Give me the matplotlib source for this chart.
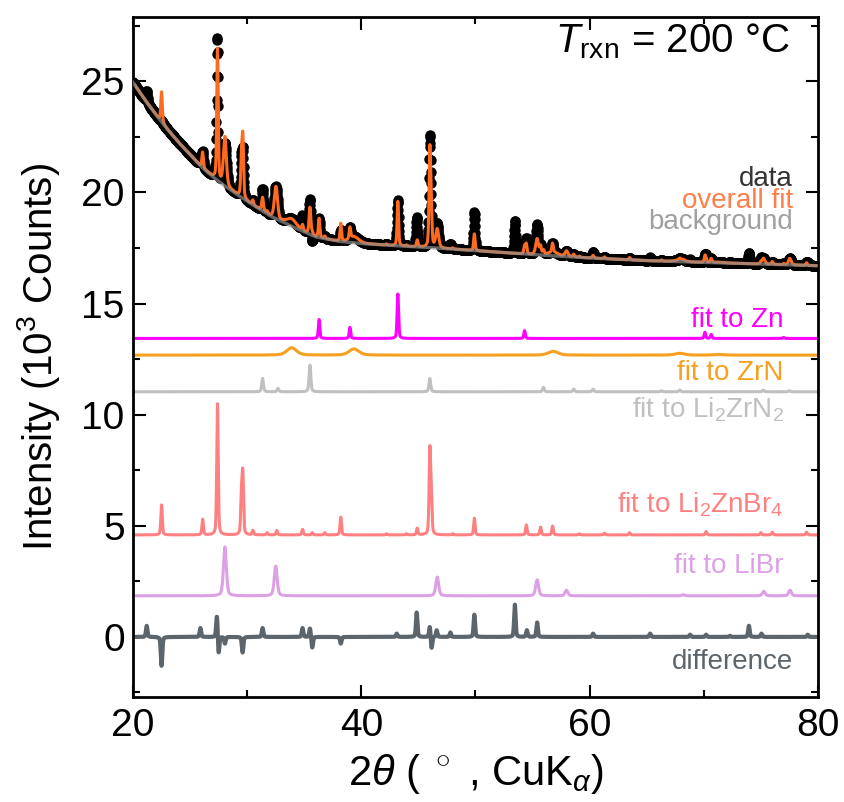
import numpy as np
import matplotlib
matplotlib.use("Agg")
import matplotlib.pyplot as plt
from matplotlib.ticker import MultipleLocator

plt.rcParams['font.family'] = ['Liberation Sans', 'DejaVu Sans']
plt.rcParams['mathtext.fontset'] = 'custom'
plt.rcParams['mathtext.rm'] = 'Liberation Sans'
plt.rcParams['mathtext.it'] = 'Liberation Sans:italic'

# background anchors (2theta, 10^3 counts)
bg_x = [20, 21, 22, 23, 24, 25, 26, 27, 28, 29, 30, 32, 34, 36, 38, 40, 43, 46, 50, 55, 60, 65, 70, 75, 80]
bg_y = [24.95, 24.2, 23.5, 22.85, 22.25, 21.7, 21.15, 20.7, 20.3, 19.95, 19.6, 18.95, 18.45, 18.0,
        17.8, 17.7, 17.6, 17.52, 17.38, 17.2, 17.05, 16.93, 16.85, 16.78, 16.7]

# phase peaks: position (2theta) and height (10^3 counts)
zn_pos = [36.3, 39.0, 43.2, 54.3, 70.1, 70.65, 77.0]
zn_int = [0.85, 0.5, 2.0, 0.35, 0.28, 0.18, 0.05]

zrn_pos = [33.9, 39.35, 56.8, 67.9, 71.3]
zrn_int = [0.33, 0.28, 0.17, 0.08, 0.03]

li2zrn2_pos = [31.35, 32.7, 35.5, 46.0, 55.95, 58.6, 60.3, 66.3, 67.9, 75.2, 77.5]
li2zrn2_int = [0.6, 0.15, 1.2, 0.6, 0.2, 0.12, 0.12, 0.05, 0.08, 0.07, 0.05]

li2znbr4_pos = [22.5, 26.1, 27.4, 29.5, 29.62, 30.5, 31.75, 32.6, 34.85, 35.7, 36.8, 38.2, 42.2, 43.95,
                44.9, 46.0, 46.12, 48.0, 49.9, 54.45, 55.7, 56.75, 59.1, 61.3, 63.5, 70.2, 75.0, 76.0, 79.0]
li2znbr4_int = [1.35, 0.7, 5.9, 1.7, 2.6, 0.2, 0.1, 0.2, 0.25, 0.1, 0.1, 0.8, 0.05, 0.05,
                0.3, 3.6, 1.8, 0.05, 0.75, 0.45, 0.35, 0.4, 0.05, 0.08, 0.1, 0.15, 0.1, 0.12, 0.12]

libr_pos = [28.05, 32.5, 46.65, 55.4, 57.97, 68.2, 75.25, 77.55]
libr_int = [2.2, 1.34, 0.84, 0.72, 0.25, 0.05, 0.2, 0.25]

# difference (data - fit) features
diff_pos = [21.2, 22.5, 25.9, 27.35, 27.5, 28.05, 29.6, 31.35, 34.85, 35.5, 35.7, 38.2, 43.1, 44.85,
            46.0, 46.15, 46.6, 47.8, 49.9, 53.45, 54.5, 55.4, 60.3, 65.3, 68.8, 70.2, 72.3, 73.95, 75.05, 79.1]
diff_int = [0.5, -1.3, 0.4, 1.0, -0.8, -0.3, -0.7, 0.4, 0.4, 0.4, -0.5, -0.3, 0.15, 1.1,
            0.5, -0.55, 0.3, 0.2, 1.0, 1.45, 0.3, 0.65, 0.15, 0.15, 0.1, 0.1, 0.05, 0.5, 0.15, 0.1]

# vertical offsets of the phase curves
offsets = {'Zn': 13.43, 'ZrN': 12.68, 'Li2ZrN2': 11.03, 'Li2ZnBr4': 4.59, 'LiBr': 1.85}

tth = np.arange(20, 80.0001, 0.01)


def profile(pos, amp, fwhm):
    out = np.zeros_like(tth)
    for p, a in zip(pos, amp):
        dx = (tth - p) / fwhm
        g = np.exp(-4 * np.log(2) * dx ** 2)
        l = 1 / (1 + 4 * dx ** 2)
        out += a * (0.6 * g + 0.4 * l)
    return out


zn = profile(zn_pos, zn_int, 0.15)
zrn = profile(zrn_pos, zrn_int, 1.0)
li2zrn2 = profile(li2zrn2_pos, li2zrn2_int, 0.18)
li2znbr4 = profile(li2znbr4_pos, li2znbr4_int, 0.15)
libr = profile(libr_pos, libr_int, 0.3)
diff = profile(diff_pos, diff_int, 0.15)

background = np.interp(tth, bg_x, bg_y)
fit = background + zn + zrn + li2zrn2 + li2znbr4 + libr
data = fit + diff

fig = plt.figure(figsize=(8.45, 8.02), dpi=100)
ax = fig.add_axes([0.1574, 0.131, 0.8106, 0.848])

ax.plot(tth[::2], data[::2], 'o', color='black', ms=7.5, mew=0, zorder=1)
ax.plot(tth, fit, color='#ff6a21', lw=2.2, zorder=2)
ax.plot(tth, background, color='#8c8c8c', lw=2.4, alpha=0.7, zorder=3)

ax.plot(tth, zn + offsets['Zn'], color='#ff00ff', lw=2.2)
ax.plot(tth, zrn + offsets['ZrN'], color='#f5a020', lw=2.2)
ax.plot(tth, li2zrn2 + offsets['Li2ZrN2'], color='#c0c0c0', lw=2.2)
ax.plot(tth, li2znbr4 + offsets['Li2ZnBr4'], color='#ff8080', lw=2.2)
ax.plot(tth, libr + offsets['LiBr'], color='#dda0e6', lw=2.2)
ax.plot(tth, diff, color='#5b656b', lw=3.0)

fs = 20
ax.text(77.8, 20.3, 'data', color='#333333', fontsize=fs, ha='right', va='baseline')
ax.text(77.8, 19.3, 'overall fit', color='#ff7f4a', fontsize=fs, ha='right', va='baseline')
ax.text(77.8, 18.35, 'background', color='#a0a0a0', fontsize=fs, ha='right', va='baseline')
ax.text(77.0, 13.95, 'fit to Zn', color='#ff00ff', fontsize=fs, ha='right', va='baseline')
ax.text(77.0, 11.55, 'fit to ZrN', color='#f5a020', fontsize=fs, ha='right', va='baseline')
ax.text(77.0, 9.88, 'fit to Li$_2$ZrN$_2$', color='#c0c0c0', fontsize=fs, ha='right', va='baseline')
ax.text(77.0, 5.61, 'fit to Li$_2$ZnBr$_4$', color='#ff8080', fontsize=fs, ha='right', va='baseline')
ax.text(77.0, 2.87, 'fit to LiBr', color='#dda0e6', fontsize=fs, ha='right', va='baseline')
ax.text(77.8, -1.44, 'difference', color='#5b656b', fontsize=fs, ha='right', va='baseline')

ax.text(0.959, 0.947, r'$T_\mathrm{rxn}$ = 200 °C', transform=ax.transAxes,
        fontsize=29, ha='right', va='baseline')

ax.set_xlim(20, 80)
ax.set_ylim(-2.7, 27.9)
ax.xaxis.set_major_locator(MultipleLocator(20))
ax.xaxis.set_minor_locator(MultipleLocator(10))
ax.yaxis.set_major_locator(MultipleLocator(5))
ax.yaxis.set_minor_locator(MultipleLocator(2.5))
ax.tick_params(which='both', direction='in', top=True, right=True, width=1.5)
ax.tick_params(which='major', length=9)
ax.tick_params(which='minor', length=5)
ax.tick_params(axis='x', labelsize=28, pad=8)
ax.tick_params(axis='y', labelsize=28, pad=6)
for s in ax.spines.values():
    s.set_linewidth(2)

ax.set_xlabel(r'2$\theta$ ( $^\circ$ , CuK$_\alpha$)', fontsize=30, labelpad=6)
ax.set_ylabel('Intensity (10$^3$ Counts)', fontsize=29, labelpad=14)

fig.savefig('out.png', dpi=100)
